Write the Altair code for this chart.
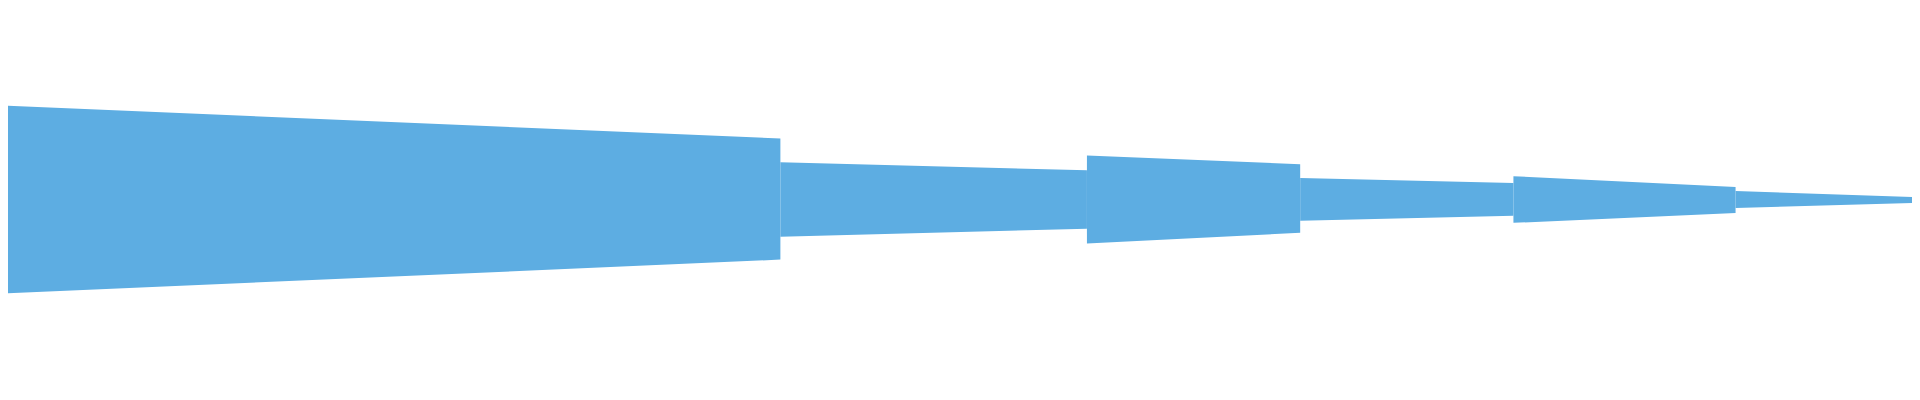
import altair as alt
import pandas as pd

# Waveform envelope: one row per constant-gain section.
# Time in seconds; amplitude normalised to full scale (-1..1).
seg_start = [0.00, 24.34, 34.00, 40.72, 47.44, 54.44]
seg_end = [24.34, 34.00, 40.72, 47.44, 54.44, 60.00]
top_start = [0.495, 0.198, 0.234, 0.115, 0.125, 0.047]
top_end = [0.323, 0.156, 0.188, 0.089, 0.068, 0.016]
bot_start = [-0.490, -0.193, -0.229, -0.109, -0.120, -0.042]
bot_end = [-0.313, -0.151, -0.172, -0.083, -0.068, -0.016]

rows = []
for k, (s, e, ts, te, bs, be) in enumerate(zip(seg_start, seg_end, top_start, top_end, bot_start, bot_end)):
    rows.append({"t": s, "top": ts, "bot": bs, "seg": k})
    rows.append({"t": e, "top": te, "bot": be, "seg": k})
df = pd.DataFrame(rows)

xs = alt.Scale(domain=[0.25, 59.75], nice=False, zero=False)
ys = alt.Scale(domain=[-1, 1], nice=False, zero=False)

chart = alt.Chart(df).mark_area(color="#5DADE2", opacity=1).encode(
    x=alt.X("t:Q", axis=None, scale=xs),
    y=alt.Y("top:Q", axis=None, scale=ys),
    y2=alt.Y2("bot:Q"),
    detail=alt.Detail("seg:N"),
).properties(
    width=1904, height=384, padding=0
).configure_view(stroke=None)

chart.save("out.html", embed_options={"renderer": "svg", "actions": False})
